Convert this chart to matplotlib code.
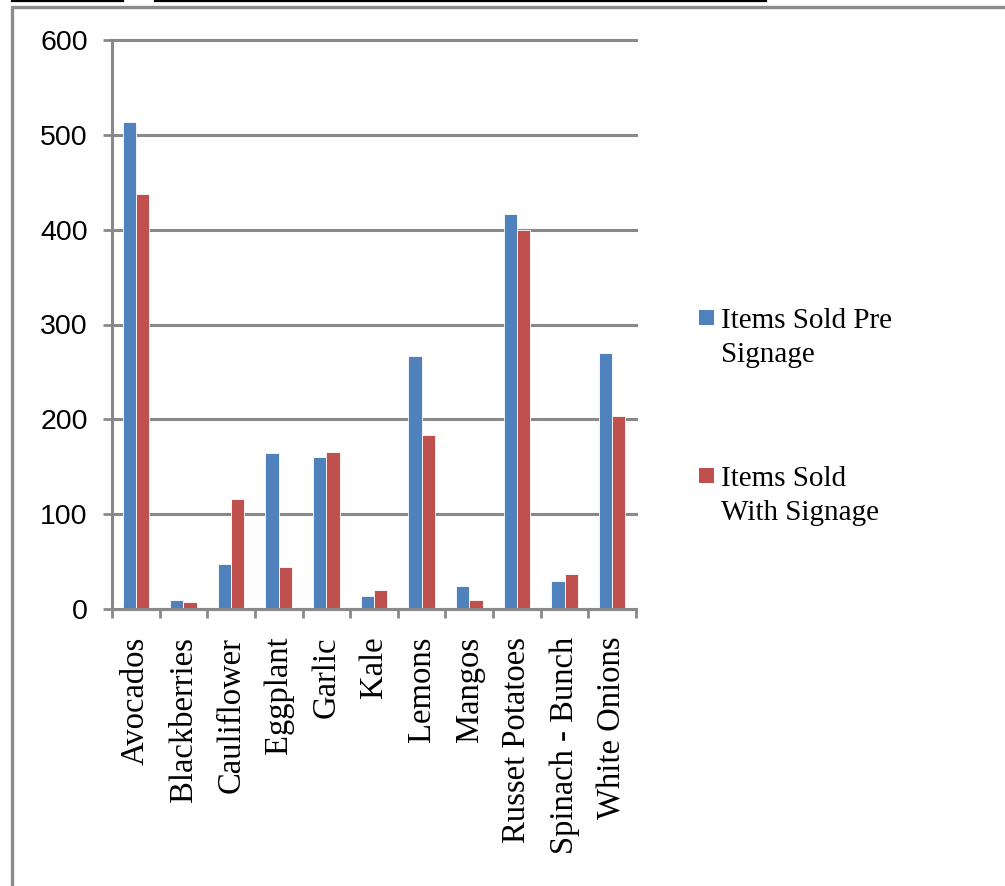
import numpy as np
import matplotlib
matplotlib.use("Agg")
import matplotlib.pyplot as plt
from matplotlib.patches import Rectangle
from matplotlib.lines import Line2D

# Data
categories = ["Avocados", "Blackberries", "Cauliflower", "Eggplant", "Garlic",
              "Kale", "Lemons", "Mangos", "Russet Potatoes", "Spinach - Bunch",
              "White Onions"]
pre_signage = [514, 9, 47, 165, 160, 14, 267, 24, 417, 29, 270]
with_signage = [438, 7, 116, 44, 166, 20, 183, 10, 400, 37, 204]
series_labels = ["Items Sold Pre\nSignage", "Items Sold\nWith Signage"]
series_colors = ["#4F81BD", "#C0504D"]
y_ticks = [0, 100, 200, 300, 400, 500, 600]

W, H = 1005, 886
GRAY = "#898989"

fig = plt.figure(figsize=(W / 100, H / 100), dpi=100)

def fx(px):
    return px / W

def fy(py):
    return 1 - py / H

# outer chart frame (runs off the right and bottom edges)
fig.patches.append(Rectangle((fx(12), fy(1000)), fx(1100), fy(7) - fy(1000),
                             transform=fig.transFigure, fill=False,
                             edgecolor="#8c8c8c", linewidth=2.4))
# underlines of the cut-off text above the chart
for x0, x1 in [(12, 123), (155, 766)]:
    fig.lines.append(Line2D([fx(x0), fx(x1)], [fy(0.8), fy(0.8)],
                            transform=fig.transFigure, color="black",
                            linewidth=1.6))

ax = fig.add_axes([fx(112), fy(609), fx(636) - fx(112), fy(40) - fy(609)])

x = np.arange(len(categories))
bw = 0.278
ax.bar(x - bw / 2, pre_signage, bw, color=series_colors[0],
       edgecolor="white", linewidth=0.6)
ax.bar(x + bw / 2, with_signage, bw, color=series_colors[1],
       edgecolor="white", linewidth=0.6)

ax.set_xlim(-0.5, len(categories) - 0.5)
ax.set_ylim(0, 600)

ax.set_yticks(y_ticks)
ax.set_yticklabels([str(v) for v in y_ticks], family="Liberation Sans",
                   fontsize=20.5)
ax.tick_params(axis="y", direction="out", length=6.5, width=2, color=GRAY,
               pad=11)

# major ticks on category boundaries, labels on minor ticks at centres
ax.set_xticks(np.arange(-0.5, len(categories), 1.0))
ax.set_xticklabels([])
ax.set_xticks(x, minor=True)
ax.set_xticklabels(categories, minor=True, rotation=90, va="top", ha="center",
                   family="Liberation Serif", fontsize=23.5)
ax.tick_params(axis="x", which="major", direction="out", length=6.5, width=2,
               color=GRAY)
ax.tick_params(axis="x", which="minor", length=0, pad=20)

for side in ["top", "right"]:
    ax.spines[side].set_visible(False)
for side in ["left", "bottom"]:
    ax.spines[side].set_color(GRAY)
    ax.spines[side].set_linewidth(2.2)

ax.set_axisbelow(True)
ax.yaxis.grid(True, color=GRAY, linewidth=2.2)
ax.xaxis.grid(False)
for gl in ax.get_ygridlines():
    gl.set_clip_on(False)

# legend drawn to the right of the plot
for (sq_top, txt_top), lab, col in zip([(310, 308), (468, 466)],
                                       series_labels, series_colors):
    fig.patches.append(Rectangle((fx(699), fy(sq_top + 15)), fx(15),
                                 fy(sq_top) - fy(sq_top + 15),
                                 transform=fig.transFigure, facecolor=col,
                                 edgecolor="none"))
    fig.text(fx(721), fy(txt_top), lab, family="Liberation Serif",
             fontsize=21, va="top", ha="left", linespacing=1.42)

fig.savefig("out.png", dpi=100)
